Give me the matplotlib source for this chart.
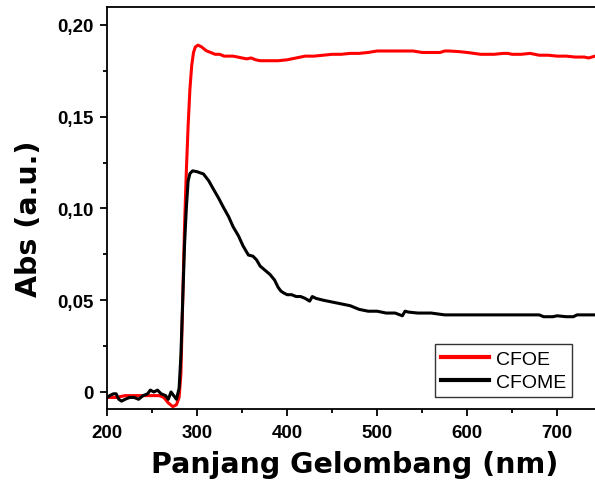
import numpy as np
import matplotlib
matplotlib.use('Agg')
import matplotlib.pyplot as plt
from matplotlib.ticker import FuncFormatter, MultipleLocator

# CFOE spectrum (red)
wl_cfoe = [200, 210, 220, 230, 240, 250, 258, 263, 268, 273, 277, 280, 282, 284, 286, 288,
           290, 292, 294, 296, 298, 301, 305, 310, 315, 320, 325, 330, 340, 350, 355, 360,
           365, 370, 380, 390, 400, 410, 420, 430, 440, 450, 460, 470, 480, 490, 500, 520,
           540, 550, 570, 575, 580, 590, 600, 615, 630, 640, 645, 650, 660, 670, 680, 690,
           700, 710, 720, 730, 735, 742]
abs_cfoe = [-0.003, -0.003, -0.002, -0.002, -0.002, -0.002, -0.002, -0.003, -0.006, -0.008,
            -0.007, -0.003, 0.010, 0.050, 0.090, 0.120, 0.145, 0.165, 0.178, 0.185, 0.188,
            0.189, 0.188, 0.186, 0.185, 0.184, 0.184, 0.183, 0.183, 0.182, 0.1815, 0.182,
            0.181, 0.1805, 0.1805, 0.1805, 0.181, 0.182, 0.183, 0.183, 0.1835, 0.184, 0.184,
            0.1845, 0.1845, 0.185, 0.1858, 0.1858, 0.1858, 0.185, 0.185, 0.1858, 0.1858,
            0.1855, 0.185, 0.184, 0.184, 0.1845, 0.1845, 0.184, 0.184, 0.1845, 0.1835,
            0.1835, 0.183, 0.183, 0.1825, 0.1825, 0.182, 0.183]

# CFOME spectrum (black)
wl_cfome = [200, 203, 207, 210, 213, 216, 220, 225, 230, 235, 240, 245, 248, 252, 256, 260,
            265, 268, 271, 274, 277, 280, 282, 284, 286, 288, 290, 292, 295, 300, 307, 313,
            318, 324, 329, 335, 340, 346, 351, 357, 362, 366, 370, 375, 381, 386, 390, 393,
            396, 400, 405, 410, 415, 420, 425, 428, 432, 440, 450, 460, 470, 480, 490, 500,
            510, 520, 528, 531, 535, 545, 560, 575, 600, 630, 660, 680, 685, 695, 700, 710,
            718, 722, 742]
abs_cfome = [-0.003, -0.002, -0.001, -0.001, -0.004, -0.005, -0.004, -0.003, -0.003, -0.004,
             -0.002, -0.001, 0.001, 0.000, 0.001, -0.001, -0.002, -0.004, 0.000, -0.002,
             -0.004, 0.002, 0.020, 0.050, 0.080, 0.100, 0.115, 0.119, 0.1205, 0.120, 0.1188,
             0.1150, 0.1106, 0.1055, 0.1008, 0.0955, 0.090, 0.0850, 0.0796, 0.0746, 0.0740,
             0.0720, 0.0686, 0.0665, 0.0640, 0.0610, 0.0570, 0.0550, 0.0540, 0.0530, 0.0530,
             0.0520, 0.0520, 0.0510, 0.0495, 0.0520, 0.0510, 0.0500, 0.0490, 0.0480, 0.0470,
             0.0450, 0.0440, 0.0440, 0.0430, 0.0430, 0.0415, 0.0440, 0.0435, 0.0430, 0.0430,
             0.0420, 0.0420, 0.0420, 0.0420, 0.0420, 0.0410, 0.0410, 0.0415, 0.0410, 0.0410,
             0.0420, 0.0420]

fig = plt.figure(figsize=(5.95, 4.85), dpi=100)
ax = fig.add_axes([0.180, 0.1546, 0.82, 0.829])

ax.plot(wl_cfoe, abs_cfoe, color='red', linewidth=2.2, label='CFOE')
ax.plot(wl_cfome, abs_cfome, color='black', linewidth=2.2, label='CFOME')

ax.set_xlim(200, 742)
ax.set_ylim(-0.0093, 0.2098)
ax.spines['right'].set_visible(False)
for s in ['left', 'bottom', 'top']:
    ax.spines[s].set_linewidth(1.3)

ax.xaxis.set_major_locator(MultipleLocator(100))
ax.xaxis.set_minor_locator(MultipleLocator(50))
ax.yaxis.set_major_locator(MultipleLocator(0.05))
ax.yaxis.set_minor_locator(MultipleLocator(0.025))
ax.yaxis.set_major_formatter(FuncFormatter(lambda v, p: '0' if abs(v) < 1e-9 else f'{v:.2f}'.replace('.', ',')))
ax.tick_params(which='major', length=5, width=1.3, direction='out')
ax.tick_params(which='minor', length=3, width=1.3, direction='out')
ax.tick_params(axis='x', which='major', pad=6)
ax.tick_params(axis='y', which='major', pad=5)
ax.tick_params(top=False, right=False)

for lab in ax.get_xticklabels() + ax.get_yticklabels():
    lab.set_fontfamily('Liberation Sans')
    lab.set_fontweight('bold')
    lab.set_fontsize(13.5)

ax.set_xlabel('Panjang Gelombang (nm)', fontfamily='DejaVu Sans', fontweight='bold', fontsize=20.5)
ax.set_ylabel('Abs (a.u.)', fontfamily='DejaVu Sans', fontweight='bold', fontsize=20.5)
ax.xaxis.set_label_coords(0.507, -0.1025)
ax.yaxis.set_label_coords(-0.131, 0.475)

leg = ax.legend(loc='lower right', bbox_to_anchor=(0.953, 0.03), prop={'family': 'Liberation Sans', 'size': 14},
                frameon=True, fancybox=False, edgecolor='black', handlelength=2.5,
                borderpad=0.3, labelspacing=0.3, handletextpad=0.35, borderaxespad=0)
leg.get_frame().set_linewidth(1.0)
for line in leg.get_lines():
    line.set_linewidth(3)

fig.savefig('out.png', dpi=100)
